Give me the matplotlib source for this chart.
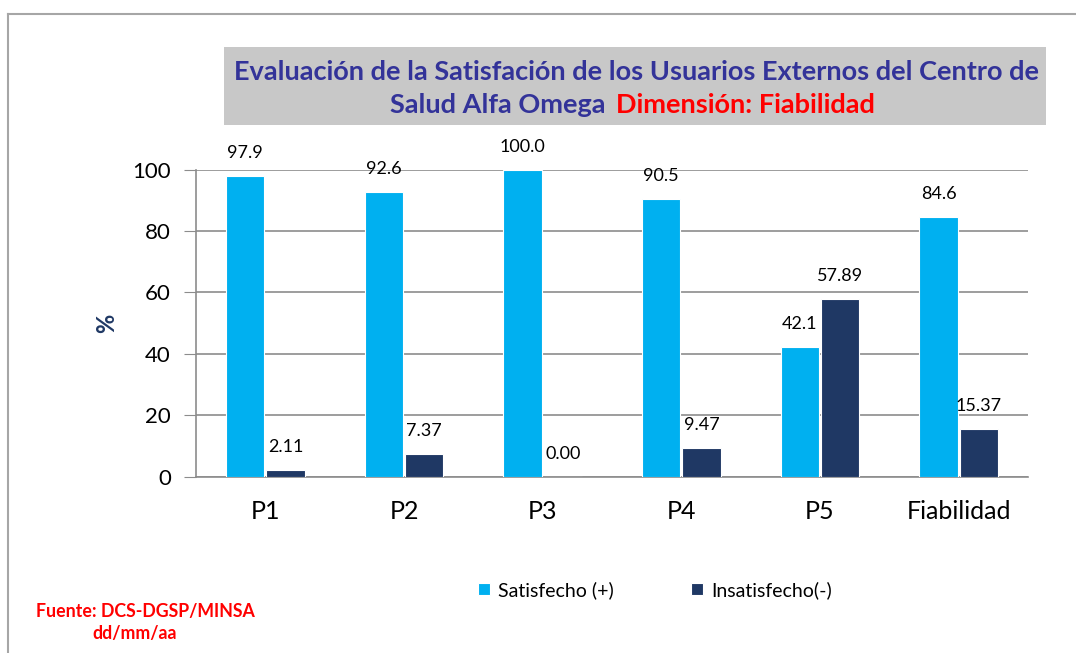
import numpy as np
import matplotlib.pyplot as plt
import matplotlib.patches as patches

# datos del grafico
categorias = ['P1', 'P2', 'P3', 'P4', 'P5', 'Fiabilidad']
satisfecho = [97.9, 92.6, 100.0, 90.5, 42.1, 84.6]
insatisfecho = [2.11, 7.37, 0.00, 9.47, 57.89, 15.37]
yticks = [0, 20, 40, 60, 80, 100]

azul_claro = '#00B0F0'
azul_oscuro = '#1F3864'
titulo_color = '#333399'
fuente = 'Lato'

W, H = 1076, 653
fig = plt.figure(figsize=(W / 100, H / 100), dpi=100)

def fx(px):
    return px / W

def fy(py):
    return 1 - py / H

# marco exterior
fig.add_artist(plt.Line2D([fx(8), fx(1076)], [fy(14), fy(14)], color='#a6a6a6', lw=1.5))
fig.add_artist(plt.Line2D([fx(8), fx(8)], [fy(14), fy(653)], color='#a6a6a6', lw=1.5))

ax = fig.add_axes([fx(196), fy(476.7), fx(1028) - fx(196), fy(169.5) - fy(476.7)])

x = np.arange(len(categorias))
ancho = 0.275
b1 = ax.bar(x - ancho / 2 - 0.008, satisfecho, ancho, color=azul_claro, edgecolor='white', lw=0.8,
            label='Satisfecho (+)', zorder=3)
b2 = ax.bar(x + ancho / 2 + 0.008, insatisfecho, ancho, color=azul_oscuro, edgecolor='white', lw=0.8,
            label='Insatisfecho(-)', zorder=3)

for rect, v in zip(b1, satisfecho):
    ax.annotate('%.1f' % v, (rect.get_x() + rect.get_width() / 2, v), xytext=(0, 15),
                textcoords='offset pixels', ha='center', va='bottom', fontsize=13, family=fuente)
for rect, v in zip(b2, insatisfecho):
    ax.annotate('%.2f' % v, (rect.get_x() + rect.get_width() / 2, v), xytext=(0, 15),
                textcoords='offset pixels', ha='center', va='bottom', fontsize=13, family=fuente)

ax.set_xlim(-0.5, len(categorias) - 0.5)
ax.set_ylim(0, 100)
ax.set_yticks(yticks)
ax.set_xticks(x)
ax.set_xticklabels(categorias, fontsize=18, family=fuente)
ax.tick_params(axis='x', length=0, pad=17)
ax.tick_params(axis='y', length=9, color='#8c8c8c', labelsize=16, pad=9)
for lab in ax.get_yticklabels():
    lab.set_family(fuente)
ax.yaxis.grid(True, color='#8c8c8c', lw=1.2, zorder=0)
ax.set_axisbelow(True)
for s in ['top', 'right']:
    ax.spines[s].set_visible(False)
ax.spines['left'].set_color('#8c8c8c')
ax.spines['bottom'].set_color('#8c8c8c')
ax.spines['left'].set_linewidth(1.2)
ax.spines['bottom'].set_linewidth(1.2)

fig.text(fx(107), fy(323), '%', rotation=90, ha='center', va='center', fontsize=17,
         fontweight='bold', color=azul_oscuro, family=fuente)

# titulo
fig.add_artist(patches.Rectangle((fx(224), fy(125)), fx(1046) - fx(224), fy(47) - fy(125),
                                 transform=fig.transFigure, facecolor='#c8c8c8', edgecolor='none'))
fig.text(fx(636), fy(72), 'Evaluación de la Satisfación de los Usuarios Externos del Centro de',
         ha='center', va='center', fontsize=19.5, fontweight='bold', color=titulo_color, family=fuente)
fig.text(fx(605), fy(105), 'Salud Alfa Omega', ha='right', va='center', fontsize=19.5,
         fontweight='bold', color=titulo_color, family=fuente)
fig.text(fx(616), fy(105), 'Dimensión: Fiabilidad', ha='left', va='center', fontsize=19.5,
         fontweight='bold', color='red', family=fuente)

# leyenda
fig.legend(handles=[b1, b2], loc='center', bbox_to_anchor=(fx(655), fy(590)), ncol=2,
           frameon=False, prop={'family': fuente, 'size': 14}, handlelength=0.6, handleheight=0.6,
           handletextpad=0.4, columnspacing=4.0)

fig.text(fx(36), fy(611), 'Fuente: DCS-DGSP/MINSA', ha='left', va='center', fontsize=12.8,
         fontweight='bold', color='red', family=fuente)
fig.text(fx(92), fy(634), 'dd/mm/aa', ha='left', va='center', fontsize=12.8,
         fontweight='bold', color='red', family=fuente)

fig.savefig('out.png', dpi=100)
